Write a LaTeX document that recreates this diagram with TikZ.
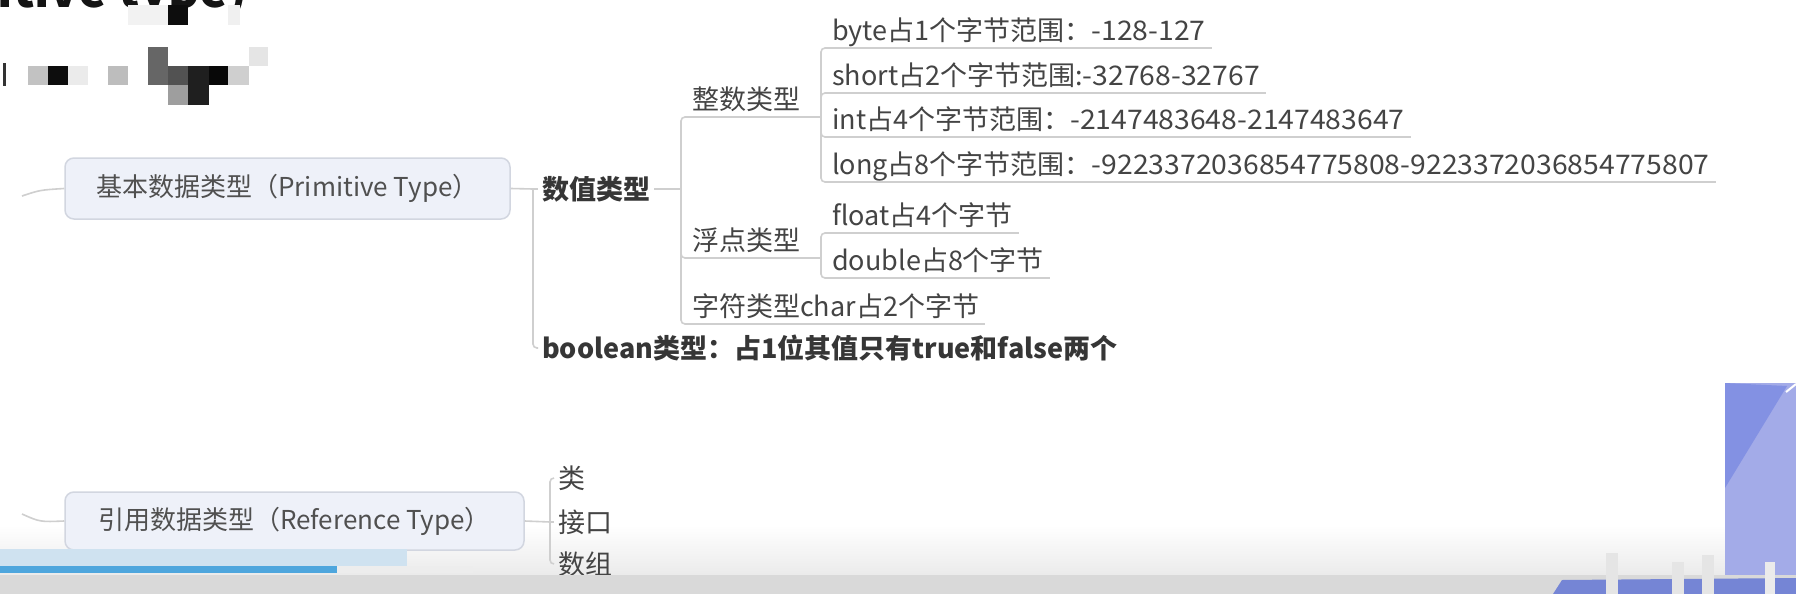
\documentclass[tikz,border=0pt]{standalone}
\usepackage{fontspec}
\setmainfont{Noto Sans CJK SC}
\newfontfamily\dg[FakeStretch=1.05]{Noto Sans CJK SC}
\definecolor{txt}{HTML}{444444}
\definecolor{boldtxt}{HTML}{363636}
\definecolor{boxtxt}{HTML}{505050}
\definecolor{linec}{HTML}{CFCFCF}
\definecolor{boxfill}{HTML}{EEF1F9}
\definecolor{boxdraw}{HTML}{D2D6E0}
\definecolor{pbl}{HTML}{CFE2F0}
\definecolor{pbb}{HTML}{4EA6DD}
\definecolor{band}{HTML}{D9D9D9}
\definecolor{blueA}{HTML}{A3ABE8}
\definecolor{blueB}{HTML}{8391E3}
\definecolor{blueC}{HTML}{7585D5}
\newcommand\fs{\fontsize{27}{32}\selectfont}
\newcommand\fsb{\fontsize{26}{32}\selectfont}
\begin{document}
\begin{tikzpicture}[x=1pt,y=-1pt,
  item/.style={anchor=south west,inner xsep=6pt,inner ysep=2pt,text height=26pt,text depth=5pt,font=\fs,text=txt},
  plain/.style={anchor=west,inner xsep=4pt,inner ysep=0pt,text height=26pt,text depth=5pt,font=\fs,text=txt},
  bplain/.style={plain,font=\fs\bfseries,text=boldtxt},
  topicbox/.style={draw=boxdraw,line width=1.5pt,fill=boxfill,rounded corners=9pt,font=\fsb,text=boxtxt,inner sep=0pt},
  conn/.style={draw=linec,line width=1.6pt,rounded corners=4pt},
  uline/.style={draw=linec,line width=1.6pt},
]
\useasboundingbox (0,0) rectangle (1796,594);
\clip (0,0) rectangle (1796,594);
\fill[white] (0,0) rectangle (1796,594);
\shade[top color=white,bottom color=black!8] (0,525) rectangle (1796,575);

% title fragment and pixelated blocks
\node[anchor=base east,inner sep=0pt,font=\fontsize{48}{50}\selectfont\bfseries,text=black!92] (title) at (248,8) {itive type)};
\fill[black!5] (128,5) rectangle (168,25);
\fill[black!95] (168,5) rectangle (188,25);
\fill[black!6] (228,5) rectangle (240,25);
\fill[black!80] (3,63) rectangle (6,86);
\fill[black!24] (28,66) rectangle (48,85);
\fill[black!95] (48,66) rectangle (68,85);
\fill[black!8] (68,66) rectangle (88,85);
\fill[black!26] (108,66) rectangle (128,85);
\fill[black!60] (148,47) rectangle (168,85);
\fill[black!68] (168,66) rectangle (188,85);
\fill[black!38] (168,85) rectangle (188,105);
\fill[black!88] (188,66) rectangle (209,105);
\fill[black!97] (209,66) rectangle (228,85);
\fill[black!19] (228,66) rectangle (249,85);
\fill[black!10] (249,47) rectangle (268,66);

% topics
\node[topicbox,minimum width=445pt,minimum height=61pt] (prim) at (287.5,188.5) {基本数据类型（Primitive Type）};
\node[topicbox,minimum width=459pt,minimum height=58pt] (ref) at (294.5,521) {引用数据类型（Reference Type）};

\node[bplain] (num) at (538,189) {数值类型};
\node[bplain] (bool) at (538,348) {boolean类型：占1位其值只有true和false两个};

\node[item] (zs) at (686,117) {整数类型};
\node[item] (fd) at (686,258) {浮点类型};
\node[item] (zf) at (686,324) {字符类型char占2个字节};

\node[item] (by) at (826,48) {byte占1个字节范围：{\dg -128-127}};
\node[item] (sh) at (826,93) {short占2个字节范围:{\dg -32768-32767}};
\node[item] (in) at (826,137) {int占4个字节范围：{\dg -2147483648-2147483647}};
\node[item] (lo) at (826,182) {long占8个字节范围：{\dg -9223372036854775808-9223372036854775807}};
\node[item] (fl) at (826,233) {float占4个字节};
\node[item] (db) at (826,278) {double占8个字节};

\node[plain] (lei) at (554,478) {类};
\node[plain] (jk) at (554,522) {接口};
\node[plain] (sz) at (554,564) {数组};

\foreach \n in {zs,fd,zf,by,sh,in,lo,fl,db}
  \draw[uline] (\n.south west) -- (\n.south east);

% connectors
\coordinate (rootA) at (22,196);
\coordinate (rootB) at (22,514);
\draw[conn] (rootA) .. controls (40,190) .. (prim.west);
\draw[conn] (rootB) .. controls (40,522) .. (ref.west);

\coordinate (jp) at (533,189);
\draw[conn] (prim.east) -- (jp);
\draw[conn] (jp) -- (num.west);
\draw[conn] (jp) |- (bool.west);

\coordinate (jn) at (681,189);
\draw[conn] (num.east) -- (jn);
\foreach \n in {zs,fd,zf} \draw[conn] (jn) |- (\n.south west);

\coordinate (jz) at (821,117);
\draw[conn] (zs.south east) -- (jz);
\foreach \n in {by,sh,in,lo} \draw[conn] (jz) |- (\n.south west);

\coordinate (jf) at (821,258);
\draw[conn] (fd.south east) -- (jf);
\foreach \n in {fl,db} \draw[conn] (jf) |- (\n.south west);

\coordinate (jr) at (550,522);
\draw[conn] (ref.east) -- (jr);
\draw[conn] (jr) |- (lei.west);
\draw[conn] (jr) -- (jk.west);
\draw[conn] (jr) |- (sz.west);

% video overlay elements
\fill[pbl] (0,549) rectangle (407,566);
\fill[pbb] (0,566) rectangle (337,573);
\fill[black!7] (337,566) rectangle (473,573);
\fill[blueA] (1725,383) rectangle (1796,575);
\fill[blueB] (1725,383) -- (1787,386) -- (1725,488) -- cycle;
\draw[white,line width=2pt] (1786,392) -- (1796,384);
\fill[band] (0,575) rectangle (1796,594);
\fill[blueC] (1553,594) -- (1562,580) -- (1796,578) -- (1796,594) -- cycle;
\fill[black!10] (1606,553) rectangle (1618,594);
\fill[black!10] (1672,562) rectangle (1684,594);
\fill[black!10] (1702,555) rectangle (1714,594);
\fill[black!8] (1765,562) rectangle (1775,594);
\end{tikzpicture}
\end{document}
